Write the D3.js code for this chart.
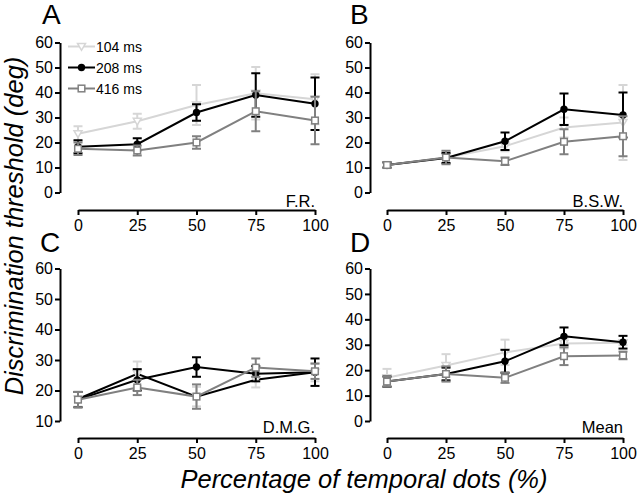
<!DOCTYPE html>
<html><head><meta charset="utf-8">
<script src="https://cdn.jsdelivr.net/npm/d3@7"></script>
<style>body{margin:0;background:#fff}svg{display:block}text{font-family:"Liberation Sans",Arial,sans-serif}</style>
</head><body>
<script>
const percentages = [0, 25, 50, 75, 100];
const seriesNames = ["104 ms", "208 ms", "416 ms"];
const seriesColors = ["#d6d6d6", "#000000", "#808080"];
const panelLetters = ["A", "B", "C", "D"];
const subjects = ["F.R.", "B.S.W.", "D.M.G.", "Mean"];
const yTicksAB = [0, 10, 20, 30, 40, 50, 60];
const yTicksC = [10, 20, 30, 40, 50, 60];

// values [104, 208, 416] per panel
const valsFR = [[23.5, 28.5, 35, 39.7, 37.3], [18.3, 19.3, 32, 39, 35.5], [17.5, 16.8, 20, 32.5, 28.8]];
const errFR  = [[3, 3, 8, 10.5, 10], [2.6, 2.4, 3.3, 8.7, 10.5], [2.5, 2, 2.5, 8, 9.5]];
const valsBSW = [[11, 14, 18.5, 26, 28], [11, 13.8, 20.5, 33.3, 31], [11, 14, 12.5, 20.3, 22.5]];
const errBSW  = [[1, 2.5, 2, 4, 15], [1, 2, 3.5, 6.3, 9], [1.2, 2.7, 1.5, 5, 8]];
const valsDMG = [[17.2, 25.5, 18, 23.5, 26], [17, 23.5, 27.7, 25.5, 26], [17, 21, 18, 27.5, 26.3]];
const errDMG  = [[2.5, 4, 3.2, 2.5, 3], [2.5, 3.5, 3.2, 2.5, 4.5], [2.5, 2.5, 4, 3, 2.5]];
const valsMean = [[17, 21.8, 27, 30.5, 30.8], [15.5, 18.5, 23.5, 33.3, 31], [15.5, 18.5, 17, 25.5, 25.8]];
const errMean  = [[3.5, 4.5, 5, 2, 1], [2, 2.5, 4.5, 3.5, 2.5], [2, 3, 2, 3.5, 1.5]];

const W = 640, H = 496;
const svg = d3.select("body").append("svg").attr("width", W).attr("height", H);

const panels = [
  {vals: valsFR, errs: errFR, xr: [78, 315], yr: [192.5, 42.5], dom: [0, 60], ticks: yTicksAB, ax: 60, ay: 210, lx: 42, ly: 24, sy: 207, legend: true},
  {vals: valsBSW, errs: errBSW, xr: [387, 623], yr: [192.5, 42.5], dom: [0, 60], ticks: yTicksAB, ax: 370, ay: 210, lx: 350, ly: 24, sy: 207},
  {vals: valsDMG, errs: errDMG, xr: [78, 315], yr: [421, 268.5], dom: [10, 60], ticks: yTicksC, ax: 60, ay: 438, lx: 40, ly: 252, sy: 433, lineOverride: {0: "#000000"}},
  {vals: valsMean, errs: errMean, xr: [387, 623], yr: [421, 268.5], dom: [0, 60], ticks: yTicksAB, ax: 370, ay: 438, lx: 350, ly: 252, sy: 433}
];

function marker(g, i, x, y, color) {
  if (i === 0) {
    const s = 4;
    g.append("path").attr("d", `M${x - s},${y - s * 0.75}L${x + s},${y - s * 0.75}L${x},${y + s * 0.95}Z`)
      .attr("fill", "#fff").attr("stroke", color).attr("stroke-width", 1.5);
  } else if (i === 1) {
    g.append("circle").attr("cx", x).attr("cy", y).attr("r", 3.7).attr("fill", color);
  } else {
    g.append("rect").attr("x", x - 3.3).attr("y", y - 3.3).attr("width", 6.6).attr("height", 6.6)
      .attr("fill", "#fff").attr("stroke", color).attr("stroke-width", 1.5);
  }
}

panels.forEach((p, pi) => {
  const x = d3.scaleLinear().domain([0, 100]).range(p.xr);
  const y = d3.scaleLinear().domain(p.dom).range(p.yr);
  const g = svg.append("g");

  const ya = g.append("g").attr("transform", `translate(${p.ax},0)`)
    .call(d3.axisLeft(y).tickValues(p.ticks).tickSize(5).tickSizeOuter(0).tickPadding(2).tickFormat(d3.format("d")));
  const xa = g.append("g").attr("transform", `translate(0,${p.ay})`)
    .call(d3.axisBottom(x).tickValues(percentages).tickSize(5).tickSizeOuter(0).tickPadding(5).tickFormat(d3.format("d")));
  [ya, xa].forEach(a => {
    a.select(".domain").attr("stroke", "#000").attr("stroke-width", 2);
    a.selectAll(".tick line").attr("stroke", "#000").attr("stroke-width", 2);
    a.selectAll(".tick text").attr("font-size", 16).attr("fill", "#000")
      .attr("font-family", '"Liberation Sans", Arial, sans-serif');
  });

  [0, 1, 2].forEach(si => {
    const color = seriesColors[si];
    const lineColor = (p.lineOverride && p.lineOverride[si]) || color;
    const sg = g.append("g");
    const pts = percentages.map((pc, k) => ({pc, v: p.vals[si][k], e: p.errs[si][k]}));
    sg.append("path").datum(pts)
      .attr("d", d3.line().x(d => x(d.pc)).y(d => y(d.v)))
      .attr("fill", "none").attr("stroke", lineColor).attr("stroke-width", 2);
    pts.forEach(d => {
      const cx = x(d.pc), y1 = y(d.v + d.e), y0 = y(d.v - d.e);
      sg.append("line").attr("x1", cx).attr("x2", cx).attr("y1", y1).attr("y2", y0).attr("stroke", color).attr("stroke-width", 2);
      [y1, y0].forEach(yy => sg.append("line").attr("x1", cx - 4.5).attr("x2", cx + 4.5).attr("y1", yy).attr("y2", yy).attr("stroke", color).attr("stroke-width", 2));
    });
    pts.forEach(d => marker(sg, si, x(d.pc), y(d.v), color));
  });

  svg.append("text").attr("x", p.lx).attr("y", p.ly).attr("font-size", 28).text(panelLetters[pi]);
  svg.append("text").attr("x", p.xr[1]).attr("y", p.sy).attr("text-anchor", "end").attr("font-size", 16.5).text(subjects[pi]);

  if (p.legend) {
    const ly = [46.5, 67.5, 88.5];
    seriesNames.forEach((n, si) => {
      const lg = svg.append("g");
      lg.append("line").attr("x1", 68).attr("x2", 95).attr("y1", ly[si]).attr("y2", ly[si]).attr("stroke", seriesColors[si]).attr("stroke-width", 2);
      marker(lg, si, 81.5, ly[si], seriesColors[si]);
      lg.append("text").attr("x", 96).attr("y", ly[si] + 5).attr("font-size", 14).text(n);
    });
  }
});

svg.append("text").attr("x", 364).attr("y", 488).attr("text-anchor", "middle")
  .attr("font-size", 25.5).attr("font-style", "italic").text("Percentage of temporal dots (%)");
svg.append("text").attr("transform", "translate(23,226) rotate(-90)").attr("text-anchor", "middle")
  .attr("font-size", 25.5).attr("font-style", "italic").text("Discrimination threshold (deg)");
</script>
</body></html>
